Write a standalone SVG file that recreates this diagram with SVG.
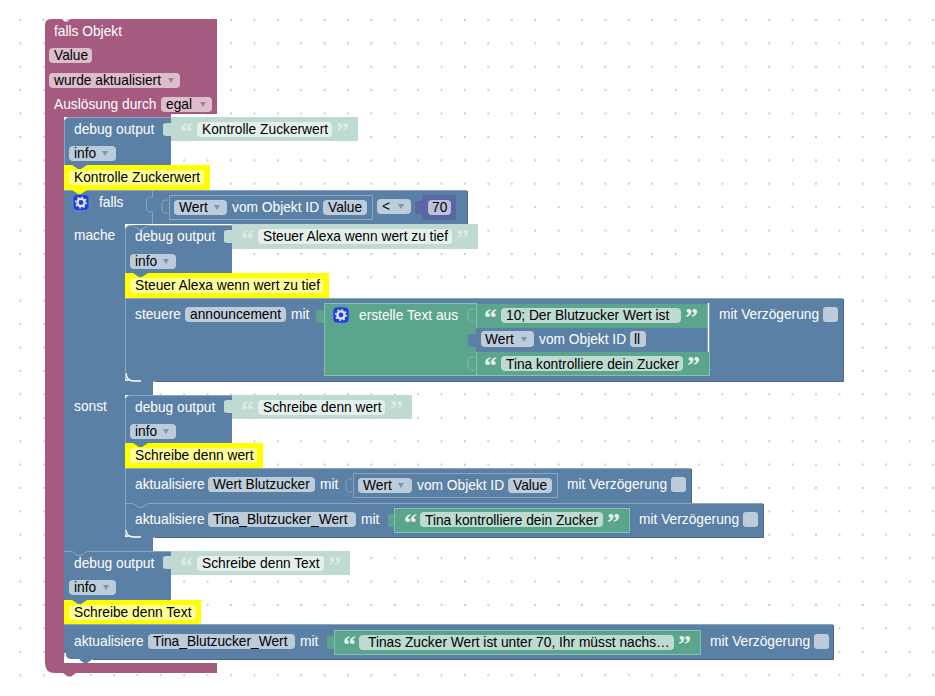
<svg xmlns="http://www.w3.org/2000/svg" width="935" height="696" viewBox="0 0 935 696">
<style>
text{font-family:"Liberation Sans",Arial,sans-serif;font-size:13.75px}
.w{fill:#fff}.k{fill:#000}
.P{fill:#a55b80}.B{fill:#5b80a5}.G{fill:#5ba58c}.S{fill:#bedad1}.Y{fill:#ff0}.N{fill:#5b67a5}
.fb{fill:#bdccdb}.fp{fill:#dbbdcc}.fg{fill:#bddbd1}.fy{fill:#ffff99}.fs{fill:#e5f0ec}.fn{fill:#bdc2db}
.ol{fill:#5b80a5;stroke:#8ca6c0;stroke-width:1}
.og{fill:#5ba58c;stroke:#8cc0ae;stroke-width:1}
.hl{fill:none;stroke:#8ca6c0;stroke-width:1}
.wh{fill:none;stroke:#fff;stroke-width:1.5}
.dk{fill:none;stroke:#496684;stroke-width:1}
.ql{font-family:"Liberation Serif",serif;font-size:26px;font-weight:bold;fill:#e8f3ef}
.qs{font-family:"Liberation Serif",serif;font-size:26px;font-weight:bold;fill:#dcebe6}
.ab{fill:#5b80a5;opacity:.7}.ap{fill:#a55b80;opacity:.7}
</style>
<defs>
<pattern id="dots" x="8.7" y="8.3" width="23.4" height="23.4" patternUnits="userSpaceOnUse"><circle cx="11.7" cy="11.7" r="1.1" fill="#ccc"/></pattern>
<path id="dd" d="M0 0h6l-3 5z"/>
<g id="gear"><rect x="0" y="0" width="16" height="16" rx="4" fill="#1f3fd0" stroke="#6f85e8" stroke-width=".8"/><circle cx="8" cy="8" r="3.6" fill="none" stroke="#dfe6ff" stroke-width="2.4"/><circle cx="8" cy="8" r="5.4" fill="none" stroke="#dfe6ff" stroke-width="1.4" stroke-dasharray="1.7 2.5"/></g>
<path id="tabv" d="M8 0C3 0 0 0 0 2V11C0 13 3 13 8 13Z"/>
<path id="tabe" d="M6 0C2 0 0 1 0 3V10C0 12 2 13 6 13" fill="none" stroke="#8ca6c0"/>
<path id="tabeg" d="M6 0C2 0 0 1 0 3V10C0 12 2 13 6 13" fill="none" stroke="#8cc0ae"/>
<path id="nt" d="M0 0l6 4h3l6-4z"/>
</defs>
<rect width="935" height="696" fill="#fff"/>
<rect width="935" height="696" fill="url(#dots)"/>

<g id="event-falls-objekt">
<path class="P" d="M45 25Q45 19 51 19H62l2.500 2.500h3L70 19H217V114H171V117H64V663H217V673H76l-5 3.500h-3l-5-3.500H55Q45 673 45 663Z"/>
<text class="w" x="54" y="36">falls Objekt</text>
<rect class="fp" x="49" y="48" width="43" height="15" rx="4"/><text class="k" x="54" y="60">Value</text>
<rect class="fp" x="49" y="73" width="131" height="15" rx="4"/><text class="k" x="54" y="85">wurde aktualisiert</text><use href="#dd" class="ap" x="168" y="78"/>
<text class="w" x="54" y="109">Auslösung durch</text>
<rect class="fp" x="161" y="97" width="51" height="15" rx="4"/><text class="k" x="166" y="109">egal</text><use href="#dd" class="ap" x="200" y="102"/>
</g>

<g id="falls-block">
<rect class="B" x="64" y="190" width="403" height="34"/>
<rect class="B" x="64" y="224" width="61" height="327"/>
<rect class="B" x="125" y="381" width="28" height="14"/>
<rect class="B" x="125" y="537" width="28" height="14"/>
<path class="hl" d="M64 190.500H467"/>
<use href="#gear" x="73" y="194.500"/>
<text class="w" x="99" y="207">falls</text>
<text class="w" x="74" y="240">mache</text>
<text class="w" x="74" y="411">sonst</text>
<path class="hl" d="M152.500 190V197M152.500 197C148 197 146.500 198 146.500 200V209C146.500 211 148 212 152.500 212V224"/>
<path class="ol" d="M169.500 195.500H372.500V219.500H169.500Z"/>
<use href="#tabe" x="162" y="200"/>
<rect class="fb" x="174" y="200" width="53" height="15" rx="4"/><text class="k" x="179" y="212">Wert</text><use href="#dd" class="ab" x="214" y="205"/>
<text class="w" x="232" y="212">vom Objekt ID</text>
<rect class="fb" x="323" y="200" width="44" height="15" rx="4"/><text class="k" x="328" y="212">Value</text>
<rect class="fb" x="377" y="199" width="34" height="15" rx="4"/><text class="k" x="382" y="211">&lt;</text><use href="#dd" class="ab" x="398" y="204"/>
<use href="#tabv" class="N" x="415" y="201"/>
<rect class="N" x="422" y="195" width="34" height="25"/>
<rect class="fn" x="428" y="200" width="23" height="15" rx="4"/><text class="k" x="432" y="212">70</text>
<path class="dk" d="M467.500 191V224.500H232"/>
</g>

<g id="debug-kontrolle">
<path class="B" d="M64 123Q64 117 70 117H171V165H64Z"/>
<path class="hl" d="M64.500 165V123Q64.500 117.500 70 117.500H171"/>
<text class="w" x="74" y="134">debug output</text>
<rect class="fb" x="69" y="146" width="47" height="15" rx="4"/><text class="k" x="74" y="158">info</text><use href="#dd" class="ab" x="102" y="151"/>
<use href="#tabv" class="S" x="163" y="123"/>
<rect class="S" x="171" y="117" width="187" height="24"/>
<text class="qs" x="180" y="140">“</text>
<rect class="fs" x="197" y="122" width="135" height="15" rx="4"/><text class="k" x="202" y="134">Kontrolle Zuckerwert</text>
<text class="qs" x="336" y="140">”</text>
</g>
<g id="kommentar-kontrolle">
<rect class="Y" x="64" y="165" width="146" height="25"/>
<rect class="fy" x="69" y="170" width="135" height="15" rx="4"/><text class="k" x="74" y="182">Kontrolle Zuckerwert</text>
<use href="#nt" class="B" x="72" y="165"/>
<use href="#nt" class="Y" x="72" y="190"/>
</g>

<g id="debug-steuer">
<path class="B" d="M125 231Q125 225 131 225H232V273H125Z"/>
<path class="hl" d="M125.500 273V231Q125.500 225.500 131 225.500H133l6 4h3l6-4H232"/>
<text class="w" x="135" y="241">debug output</text>
<rect class="fb" x="130" y="254" width="46" height="15" rx="4"/><text class="k" x="135" y="266">info</text><use href="#dd" class="ab" x="163" y="259"/>
<use href="#tabv" class="S" x="224" y="230"/>
<rect class="S" x="232" y="224" width="246" height="25"/>
<text class="qs" x="241" y="247">“</text>
<rect class="fs" x="258" y="229" width="194" height="15" rx="4"/><text class="k" x="263" y="241">Steuer Alexa wenn wert zu tief</text>
<text class="qs" x="456" y="247">”</text>
</g>
<g id="kommentar-steuer">
<rect class="Y" x="125" y="273" width="204" height="25"/>
<rect class="fy" x="130" y="278" width="193" height="15" rx="4"/><text class="k" x="135" y="290">Steuer Alexa wenn wert zu tief</text>
<use href="#nt" class="B" x="133" y="273"/>
<use href="#nt" class="Y" x="133" y="298"/>
</g>

<g id="steuere-announcement">
<path class="B" d="M125 298H843V381H155l-6 4h-3l-6-4H131Q125 381 125 375Z"/>
<path class="hl" d="M125 298.500H843"/>
<path class="hl" d="M125.500 298V372"/>
<path class="dk" d="M843.500 299V381.500H155"/>
<path class="wh" d="M126 373Q126 381 134 381H141"/>
<text class="w" x="135" y="319">steuere</text>
<rect class="fb" x="185" y="307" width="101" height="15" rx="4"/><text class="k" x="190" y="319">announcement</text>
<text class="w" x="291" y="319">mit</text>
<rect class="fb" x="823" y="307" width="15" height="15" rx="3"/>
<text class="w" x="719" y="319">mit Verzögerung</text>
</g>
<g id="erstelle-text">
<path class="G" d="M324 310C320 310 316 310 316 312V321C316 323 320 323 324 323Z"/>
<rect class="og" x="324.500" y="303.500" width="152" height="72"/>
<use href="#gear" x="333" y="307"/>
<text class="w" x="359" y="320">erstelle Text aus</text>
<use href="#tabeg" x="468" y="309"/>
<use href="#tabeg" x="468" y="357"/>
</g>
<g id="text-10">
<rect class="G" x="477" y="304" width="231" height="24"/>
<path d="M708.500 303V352" stroke="#fff" stroke-width="1.500"/>
<text class="ql" x="484" y="326">“</text>
<rect class="fg" x="501" y="308" width="180" height="15" rx="4"/><text class="k" x="506" y="320">10; Der Blutzucker Wert ist</text>
<text class="ql" x="685" y="326">”</text>
</g>
<g id="wert-ll">
<use href="#tabv" class="B" x="468" y="334"/>
<rect class="B" x="476" y="328" width="175" height="24"/>
<rect class="fb" x="481" y="331" width="53" height="16" rx="4"/><text class="k" x="485" y="344">Wert</text><use href="#dd" class="ab" x="521" y="337"/>
<text class="w" x="539" y="344">vom Objekt ID</text>
<rect class="fb" x="630" y="331" width="16" height="16" rx="4"/><text class="k" x="634" y="344">ll</text>
</g>
<g id="text-tina">
<rect class="G" x="477" y="352" width="233" height="24"/>
<path d="M477 375.500H710M709.500 352V376" stroke="#8cc0ae" fill="none"/>
<text class="ql" x="484" y="374">“</text>
<rect class="fg" x="501" y="356" width="182" height="15" rx="4"/><text class="k" x="506" y="369">Tina kontrolliere dein Zucker</text>
<text class="ql" x="687" y="374">”</text>
</g>

<g id="debug-schreibe-wert">
<path class="B" d="M125 401Q125 395 131 395H232V443H125Z"/>
<path class="hl" d="M125.500 443V401Q125.500 395.500 131 395.500H232"/>
<text class="w" x="135" y="412">debug output</text>
<rect class="fb" x="130" y="424" width="46" height="15" rx="4"/><text class="k" x="135" y="436">info</text><use href="#dd" class="ab" x="163" y="429"/>
<use href="#tabv" class="S" x="224" y="400"/>
<rect class="S" x="232" y="395" width="180" height="24"/>
<text class="qs" x="241" y="418">“</text>
<rect class="fs" x="258" y="400" width="127" height="15" rx="4"/><text class="k" x="263" y="412">Schreibe denn wert</text>
<text class="qs" x="390" y="418">”</text>
</g>
<g id="kommentar-schreibe-wert">
<rect class="Y" x="125" y="443" width="138" height="25"/>
<rect class="fy" x="130" y="448" width="127" height="15" rx="4"/><text class="k" x="135" y="460">Schreibe denn wert</text>
<use href="#nt" class="B" x="133" y="443"/>
<use href="#nt" class="Y" x="133" y="468"/>
</g>
<g id="aktualisiere-wert-blutzucker">
<rect class="B" x="125" y="468" width="566" height="35"/>
<path class="hl" d="M125 468.500H691M125.500 468V503"/>
<path class="dk" d="M691.500 469V503.500"/>
<text class="w" x="135" y="489">aktualisiere</text>
<rect class="fb" x="208" y="477" width="107" height="15" rx="4"/><text class="k" x="213" y="489">Wert Blutzucker</text>
<text class="w" x="320" y="489">mit</text>
<use href="#tabe" x="346" y="479"/>
<rect class="ol" x="353.500" y="473.500" width="204" height="24"/>
<rect class="fb" x="358" y="478" width="54" height="15" rx="4"/><text class="k" x="363" y="490">Wert</text><use href="#dd" class="ab" x="398" y="483"/>
<text class="w" x="417" y="490">vom Objekt ID</text>
<rect class="fb" x="508" y="478" width="44" height="15" rx="4"/><text class="k" x="513" y="490">Value</text>
<text class="w" x="567" y="489">mit Verzögerung</text>
<rect class="fb" x="671" y="477" width="15" height="15" rx="3"/>
</g>
<g id="aktualisiere-tina">
<path class="B" d="M125 503H763V537H155l-6 4h-3l-6-4H131Q125 537 125 531Z"/>
<path class="hl" d="M125 503.500H133l6 4h3l6-4H763M125.500 503V530"/>
<path class="dk" d="M763.500 504V537.500H155"/>
<path class="wh" d="M126 530Q126 537 134 537H141"/>
<text class="w" x="135" y="524">aktualisiere</text>
<rect class="fb" x="208" y="512" width="148" height="15" rx="4"/><text class="k" x="213" y="524">Tina_Blutzucker_Wert</text>
<text class="w" x="361" y="524">mit</text>
<path class="G" d="M395 514C391 514 388 514 388 516V525C388 527 391 527 395 527Z"/>
<rect class="og" x="394.500" y="508.500" width="235" height="24"/>
<text class="ql" x="404" y="531">“</text>
<rect class="fg" x="420" y="512" width="183" height="15" rx="4"/><text class="k" x="425" y="525">Tina kontrolliere dein Zucker</text>
<text class="ql" x="607" y="531">”</text>
<text class="w" x="639" y="524">mit Verzögerung</text>
<rect class="fb" x="743" y="512" width="15" height="15" rx="3"/>
</g>

<g id="debug-schreibe-text">
<rect class="B" x="64" y="551" width="107" height="49"/>
<path class="hl" d="M64 551.500H72l6 4h3l6-4H171"/>
<text class="w" x="74" y="568">debug output</text>
<rect class="fb" x="69" y="580" width="47" height="15" rx="4"/><text class="k" x="74" y="592">info</text><use href="#dd" class="ab" x="103" y="585"/>
<use href="#tabv" class="S" x="163" y="556"/>
<rect class="S" x="171" y="551" width="179" height="24"/>
<text class="qs" x="180" y="574">“</text>
<rect class="fs" x="197" y="556" width="127" height="15" rx="4"/><text class="k" x="202" y="568">Schreibe denn Text</text>
<text class="qs" x="328" y="574">”</text>
</g>
<g id="kommentar-schreibe-text">
<rect class="Y" x="64" y="600" width="137" height="24"/>
<rect class="fy" x="69" y="605" width="127" height="15" rx="4"/><text class="k" x="74" y="617">Schreibe denn Text</text>
<use href="#nt" class="B" x="72" y="600"/>
<use href="#nt" class="Y" x="72" y="624"/>
</g>
<g id="aktualisiere-tina-unten">
<path class="B" d="M64 624H833V659H93l-6 4h-3l-6-4H70Q64 659 64 653Z"/>
<path class="hl" d="M64 624.500H833"/>
<path class="dk" d="M833.500 625V659.500H93"/>
<path class="wh" d="M65 653Q65 660 72 660H80"/>
<text class="w" x="74" y="646">aktualisiere</text>
<rect class="fb" x="148" y="634" width="147" height="15" rx="4"/><text class="k" x="153" y="646">Tina_Blutzucker_Wert</text>
<text class="w" x="300" y="646">mit</text>
<path class="G" d="M334 636C330 636 327 636 327 638V647C327 649 330 649 334 649Z"/>
<rect class="og" x="334.500" y="630.500" width="366" height="24"/>
<text class="ql" x="343" y="653">“</text>
<rect class="fg" x="359" y="635" width="315" height="15" rx="4"/><text class="k" x="368" y="647">Tinas Zucker Wert ist unter 70, Ihr müsst nachs…</text>
<text class="ql" x="678" y="653">”</text>
<text class="w" x="710" y="646">mit Verzögerung</text>
<rect class="fb" x="814" y="634" width="15" height="15" rx="3"/>
</g>
</svg>
